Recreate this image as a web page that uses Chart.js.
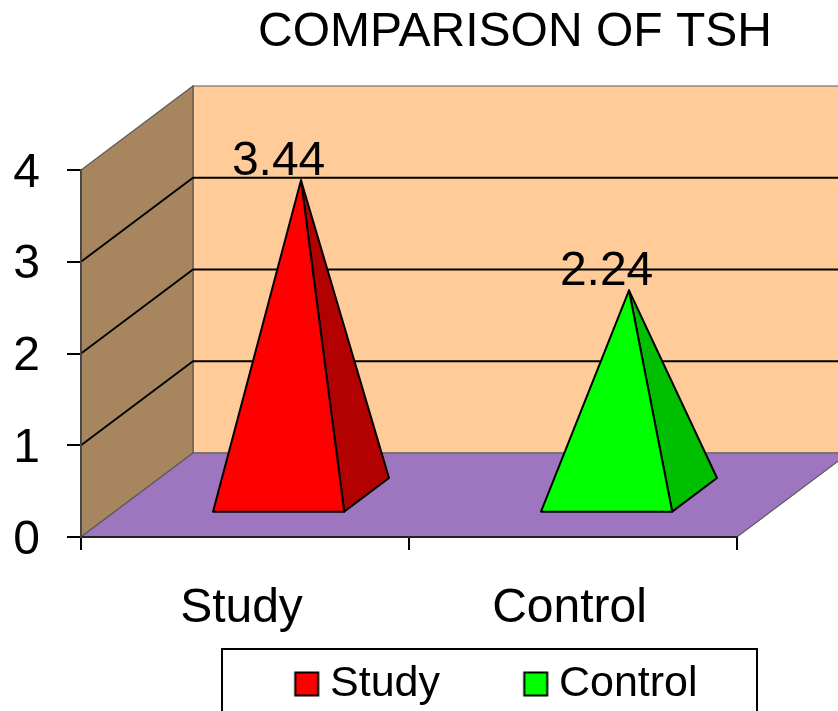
<!DOCTYPE html>
<html>
<head>
<meta charset="utf-8">
<style>html,body{margin:0;padding:0;background:#fff;overflow:hidden}canvas{display:block}</style>
<script src="https://cdn.jsdelivr.net/npm/chart.js@4/dist/chart.umd.min.js"></script>
</head>
<body>
<canvas id="c" width="838" height="711"></canvas>
<script>
const titleText = 'COMPARISON OF TSH';
const categories = ['Study', 'Control'];
const studyValues = [3.44, null];
const controlValues = [null, 2.24];
const seriesNames = ['Study', 'Control'];
const yMin = 0, yMax = 4, yStep = 1;

const FONT = '"Liberation Sans", Arial, sans-serif';
const DEPTH_X = 112, DEPTH_Y = 84;
const INSET_X = 0.3, INSET_Y = 0.29, BASE_DEPTH = 0.4;

function swatch(color) {
  const cv = document.createElement('canvas');
  cv.width = 48; cv.height = 48;
  const g = cv.getContext('2d');
  g.fillStyle = color; g.strokeStyle = '#000'; g.lineWidth = 2;
  g.fillRect(17.5, 12.5, 23, 23);
  g.strokeRect(17.5, 12.5, 23, 23);
  return cv;
}
function poly(ctx, pts, fill) {
  ctx.beginPath();
  pts.forEach((p, i) => i ? ctx.lineTo(p[0], p[1]) : ctx.moveTo(p[0], p[1]));
  ctx.closePath();
  ctx.fillStyle = fill;
  ctx.fill();
  ctx.stroke();
}

class PyramidController extends Chart.BarController {
  draw() {
    const ctx = this.chart.ctx;
    const ds = this.getDataset();
    const meta = this.getMeta();
    ctx.save();
    ctx.strokeStyle = '#000';
    ctx.lineWidth = 2;
    ctx.lineJoin = 'round';
    meta.data.forEach((el, i) => {
      if (ds.data[i] === null) return;
      const ox = DEPTH_X * INSET_X, oy = DEPTH_Y * INSET_Y;
      const dx = DEPTH_X * BASE_DEPTH, dy = DEPTH_Y * BASE_DEPTH;
      const left = el.x - el.width / 2 + ox, right = el.x + el.width / 2 + ox;
      const baseY = el.base - oy;
      const apex = [el.x + ox + dx / 2, el.y - oy - dy / 2];
      poly(ctx, [[right, baseY], [right + dx, baseY - dy], apex], ds.sideColor);
      poly(ctx, [[left, baseY], [right, baseY], apex], ds.backgroundColor);
    });
    ctx.restore();
  }
}
PyramidController.id = 'pyramid';
PyramidController.defaults = Chart.BarController.defaults;
PyramidController.overrides = Chart.BarController.overrides;
Chart.register(PyramidController);

const scene = {
  id: 'scene',
  afterLayout(chart) {
    chart.titleBlock.left = 192;
    chart.titleBlock.right = 838;
    chart.legend.left = 211;
    chart.legend.right = 1000;
    chart.legend.top = 578.5;
  },
  beforeDraw(chart) {
    const ctx = chart.ctx, xs = chart.scales.x, ys = chart.scales.y;
    const l = xs.left, r = xs.right, b = ys.bottom, t = ys.top;
    ctx.save();
    ctx.lineWidth = 1.2;
    ctx.strokeStyle = '#5a5a5a';
    poly(ctx, [[l + DEPTH_X, t - DEPTH_Y], [r + DEPTH_X, t - DEPTH_Y], [r + DEPTH_X, b - DEPTH_Y], [l + DEPTH_X, b - DEPTH_Y]], '#FFCC99');
    poly(ctx, [[l, b], [l + DEPTH_X, b - DEPTH_Y], [l + DEPTH_X, t - DEPTH_Y], [l, t]], '#A6855F');
    poly(ctx, [[l, b], [r, b], [r + DEPTH_X, b - DEPTH_Y], [l + DEPTH_X, b - DEPTH_Y]], '#9E76C0');
    ctx.strokeStyle = '#000';
    ctx.lineWidth = 1.8;
    ys.ticks.forEach(tk => {
      if (tk.value === yMin || tk.value === yMax) return;
      const y = ys.getPixelForValue(tk.value);
      ctx.beginPath();
      ctx.moveTo(l, y);
      ctx.lineTo(l + DEPTH_X, y - DEPTH_Y);
      ctx.lineTo(r + DEPTH_X, y - DEPTH_Y);
      ctx.stroke();
    });
    ctx.lineWidth = 2;
    ctx.strokeRect(222, 649, 535, 100);
    ctx.restore();
  },
  afterDatasetsDraw(chart) {
    const ctx = chart.ctx;
    ctx.save();
    ctx.font = '48px ' + FONT;
    ctx.fillStyle = '#000';
    ctx.textAlign = 'center';
    ctx.textBaseline = 'alphabetic';
    chart.data.datasets.forEach((ds, d) => {
      chart.getDatasetMeta(d).data.forEach((el, i) => {
        if (ds.data[i] === null) return;
        const apexY = el.y - DEPTH_Y * (INSET_Y + BASE_DEPTH / 2);
        ctx.fillText(ds.data[i].toFixed(2), el.x + DEPTH_X * INSET_X, apexY - 5.5);
      });
    });
    ctx.restore();
  }
};

new Chart(document.getElementById('c'), {
  type: 'pyramid',
  data: {
    labels: categories,
    datasets: [
      { label: seriesNames[0], data: studyValues, backgroundColor: '#FF0000', sideColor: '#B30000', borderColor: '#000', grouped: false, barPercentage: 0.4, categoryPercentage: 1 },
      { label: seriesNames[1], data: controlValues, backgroundColor: '#00FF00', sideColor: '#00BF00', borderColor: '#000', grouped: false, barPercentage: 0.4, categoryPercentage: 1 }
    ]
  },
  plugins: [scene],
  options: {
    responsive: false,
    devicePixelRatio: 1,
    animation: false,
    layout: { autoPadding: false, padding: { left: 0, top: 0, right: 101, bottom: 0 } },
    scales: {
      x: {
        afterFit(s) { s.height = 173; },
        grid: { drawOnChartArea: false, offset: true, color: '#000', lineWidth: 2, tickLength: 13 },
        border: { color: '#222', width: 2 },
        ticks: { color: '#000', font: { family: FONT, size: 48 }, padding: 30, maxRotation: 0, labelOffset: -3.5 }
      },
      y: {
        min: yMin, max: yMax,
        afterFit(s) { s.width = 81; },
        grid: { drawOnChartArea: false, color: '#000', lineWidth: 2, tickLength: 14 },
        border: { color: '#444', width: 1.8 },
        ticks: { stepSize: yStep, color: '#000', font: { family: FONT, size: 48 }, padding: 27, labelOffset: 3.5 }
      }
    },
    plugins: {
      tooltip: { enabled: false },
      title: {
        display: true,
        text: titleText,
        color: '#000',
        font: { family: FONT, size: 48, weight: 'normal', lineHeight: 1.2 },
        padding: { top: 4.2, bottom: 108.2 }
      },
      legend: {
        display: true,
        position: 'bottom',
        align: 'start',
        maxHeight: 1,
        labels: {
          color: '#000',
          font: { family: FONT, size: 43 },
          usePointStyle: true,
          pointStyleWidth: 13.5,
          boxHeight: 24,
          padding: 84,
          generateLabels(chart) {
            return Chart.defaults.plugins.legend.labels.generateLabels(chart).map((it, i) => {
              it.pointStyle = swatch(chart.data.datasets[i].backgroundColor);
              return it;
            });
          }
        }
      }
    }
  }
});
</script>
</body>
</html>
